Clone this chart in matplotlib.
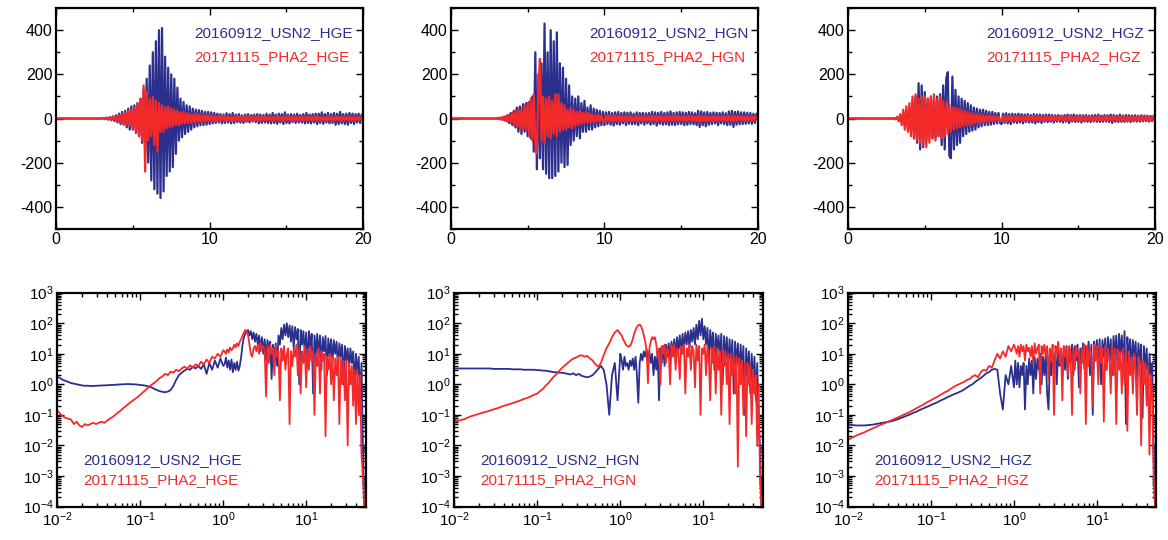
import numpy as np
import matplotlib.pyplot as plt
from matplotlib.ticker import MultipleLocator, LogLocator, NullFormatter

plt.rcParams['font.family'] = ['Liberation Sans', 'DejaVu Sans']
plt.rcParams['axes.unicode_minus'] = False
plt.rcParams['mathtext.default'] = 'regular'

BLUE = '#2b2f8e'
RED = '#f42a2a'

components = ['HGE', 'HGN', 'HGZ']
name_blue = '20160912_USN2'
name_red = '20171115_PHA2'

# time axis (s): 0.1 s samples; frequency axis (Hz): 30 pts/decade below 1 Hz, 60 above
t = np.arange(201) * 0.1
freq = np.concatenate([np.logspace(-2, 0, 61), np.logspace(0, 1.7, 103)[1:]])

# ---- waveforms (counts), one value per 0.1 s ----
usn2_hge = [0] * 30 + [
    0, 2, -3, 4, -5, 6, -8, 10, -12, 15,
    -18, 22, -25, 30, -28, 35, -40, 45, -50, 55,
    -50, 60, -65, 70, -80, 90, -110, 130, -150, 180,
    -200, 240, -280, 300, -320, 350, -340, 400, -360, 410,
    -330, 280, -260, 230, -240, 200, -220, 180, -160, 140,
    -100, 90, -85, 75, -70, 60, -60, 55, -50, 45,
    -40, 40, -35, 38, -30, 35, -30, 30, -28, 30,
    -25, 28, -22, 25, -20, 22, -18, 20, -22, 18,
    -20, 24, -18, 20, -22, 25, -20, 18, -16, 20,
    -18, 15, -20, 18, -15, 20, -18, 16, -14, 18,
    -16, 20, -22, 18, -20, 16, -18, 22, -20, 18,
    -22, 25, -20, 18, -24, 22, -18, 20, -25, 28,
    -20, 18, -22, 20, -16, 18, -20, 22, -18, 16,
    -18, 20, -22, 25, -20, 18, -22, 20, -18, 22,
    -25, 22, -20, 28, -24, 20, -18, 25, -22, 20,
    -20, 25, -28, 22, -25, 30, -22, 20, -25, 22,
    -28, 25, -20, 22, -25, 20, -18, 22, -20, 18,
    0]
pha2_hge = [0] * 30 + [
    0, 1, -2, 3, -4, 5, -6, 8, -8, 10,
    -12, 15, -18, 20, -25, 28, -30, 35, -32, 40,
    -45, 50, -60, 70, -80, 90, -100, 150, -240, 120,
    -100, 90, -80, 100, -120, 80, -150, 70, -60, 60,
    -60, 50, -45, 55, -40, 45, -35, 40, -30, 35,
    -30, 28, -25, 30, -22, 25, -20, 22, -20, 18,
    -18, 20, -15, 18, -15, 16, -14, 15, -12, 14,
    -12, 14, -10, 12, -12, 10, -11, 12, -10, 11,
    -10, 12, -9, 10, -11, 9, -10, 11, -8, 10,
    -9, 10, -11, 9, -8, 10, -9, 8, -10, 9,
    -8, 9, -10, 8, -9, 10, -8, 9, -7, 8,
    -9, 8, -10, 9, -8, 10, -9, 8, -10, 9,
    -8, 10, -9, 8, -10, 9, -8, 7, -9, 8,
    -10, 9, -8, 10, -9, 8, -7, 9, -8, 10,
    -9, 8, -10, 9, -8, 7, -9, 10, -8, 9,
    -10, 8, -9, 10, -8, 9, -10, 8, -9, 7,
    -8, 9, -10, 8, -9, 8, -7, 9, -8, 7,
    0]
usn2_hgn = [0] * 30 + [
    0, 1, -2, 3, -5, 8, -10, 15, -20, 25,
    -30, 35, -40, 50, -60, 55, -70, 65, -60, 70,
    -80, 75, -90, 100, -150, 300, -230, 200, -180, 250,
    -230, 430, -250, 300, -270, 400, -270, 350, -260, 390,
    -240, 250, -200, 230, -220, 180, -210, 150, -120, 100,
    -100, 90, -80, 100, -90, 70, -60, 80, -60, 50,
    -50, 60, -50, 45, -40, 40, -35, 35, -30, 30,
    -30, 28, -25, 30, -28, 25, -32, 28, -25, 30,
    -28, 25, -22, 28, -30, 26, -24, 28, -26, 22,
    -25, 28, -30, 25, -22, 26, -28, 24, -22, 25,
    -28, 30, -25, 28, -32, 26, -24, 30, -28, 25,
    -26, 28, -30, 32, -28, 25, -30, 28, -26, 30,
    -25, 28, -30, 26, -28, 30, -25, 28, -26, 24,
    -30, 35, -38, 32, -30, 28, -35, 30, -28, 25,
    -25, 28, -22, 26, -30, 25, -22, 28, -26, 24,
    -30, 32, -28, 35, -38, 30, -28, 32, -26, 28,
    -25, 28, -24, 26, -22, 25, -24, 22, -20, 22,
    0]
pha2_hgn = [0] * 30 + [
    2, -3, 5, -6, 8, -10, 12, -15, 18, -20,
    25, -30, 35, -40, 45, -50, 40, -50, 60, -55,
    70, -80, 90, -100, 110, -120, -160, 150, 270, -100,
    100, -110, 90, -80, 100, -90, 80, -70, 110, -80,
    110, -60, 70, -50, 60, -50, 40, -40, 50, -45,
    40, -35, 30, -30, 35, -25, 25, -20, 30, -20,
    25, -20, 20, -18, 15, -15, 18, -14, 15, -12,
    -15, 14, -12, 15, -13, 12, -14, 13, -12, 14,
    -12, 13, -11, 12, -14, 12, -11, 13, -12, 10,
    -11, 12, -13, 11, -10, 12, -13, 11, -10, 12,
    -12, 13, -11, 12, -14, 12, -10, 13, -12, 11,
    -12, 14, -13, 12, -11, 13, -12, 14, -11, 12,
    -10, 12, -13, 11, -12, 13, -10, 12, -11, 10,
    -12, 14, -15, 13, -12, 11, -14, 12, -11, 10,
    -11, 12, -10, 11, -12, 10, -9, 12, -11, 10,
    -12, 13, -11, 14, -15, 12, -11, 13, -10, 12,
    -10, 11, -10, 11, -9, 10, -10, 9, -8, 9,
    0]
usn2_hgz = [0] * 30 + [
    1, -2, 4, -6, 10, -15, 20, -30, 35, -40,
    50, -60, 80, -90, 100, -110, 160, -140, 150, -130,
    120, -100, 90, -80, 100, -90, 80, -90, 100, -80,
    110, -120, 150, -140, 180, 210, -170, -180, 190, -140,
    130, -120, 100, -110, 90, -80, 80, -70, 70, -60,
    60, -55, 50, -50, 45, -40, 40, -35, 40, -30,
    35, -30, 30, -28, 30, -25, 25, -22, 25, -20,
    -25, 22, -20, 24, -22, 20, -25, 22, -18, 20,
    -20, 22, -18, 20, -22, 18, -16, 20, -18, 16,
    -18, 20, -22, 18, -16, 18, -20, 16, -15, 18,
    -16, 18, -15, 16, -18, 15, -14, 16, -15, 14,
    -18, 16, -15, 18, -20, 16, -14, 18, -16, 15,
    -15, 16, -18, 15, -14, 16, -15, 14, -16, 15,
    -14, 16, -15, 18, -16, 14, -15, 16, -14, 15,
    -16, 18, -20, 16, -15, 14, -16, 18, -15, 14,
    -15, 16, -14, 15, -16, 14, -13, 15, -14, 13,
    -14, 15, -13, 14, -12, 13, -14, 12, -12, 13,
    0]
pha2_hgz = [0] * 30 + [
    2, -4, 8, -12, 20, -30, 40, -50, 55, -60,
    70, -80, 100, -90, 110, -100, 90, -110, 100, -120,
    100, -130, 90, -110, 100, -90, 110, -100, 90, -80,
    100, -90, 80, -80, 70, -70, 60, -60, 50, -50,
    50, -45, 45, -40, 40, -35, 35, -30, 30, -28,
    25, -25, 22, -20, 20, -20, 18, -18, 15, -15,
    15, -14, 14, -12, 12, -12, 12, -10, 10, -10,
    -12, 10, -11, 12, -10, 11, -12, 10, -9, 11,
    -10, 11, -9, 10, -11, 9, -10, 11, -9, 10,
    -9, 10, -11, 9, -8, 10, -9, 8, -9, 10,
    -8, 9, -10, 8, -9, 10, -8, 9, -8, 9,
    -9, 8, -10, 9, -8, 10, -9, 8, -9, 8,
    -8, 9, -10, 8, -9, 8, -8, 9, -9, 8,
    -9, 8, -8, 10, -9, 8, -8, 9, -8, 9,
    -9, 8, -10, 9, -8, 9, -9, 8, -8, 9,
    -8, 9, -9, 8, -9, 8, -8, 9, -8, 8,
    -8, 9, -8, 8, -7, 8, -8, 7, -7, 8,
    0]

# ---- amplitude spectra: 61 values 0.01-1 Hz, then 102 values 1.04-50 Hz ----
spec_usn2_hge = [
    1.8, 1.6, 1.4, 1.3, 1.2, 1.1, 1.05, 1.0, 0.95, 0.92,
    0.9, 0.9, 0.88, 0.88, 0.9, 0.9, 0.92, 0.92, 0.93, 0.95,
    0.95, 0.97, 0.98, 1.0, 1.0, 1.02, 1.02, 1.0, 1.0, 0.98,
    0.95, 0.93, 0.9, 0.85, 0.8, 0.72, 0.65, 0.6, 0.57, 0.55,
    0.58, 0.65, 0.9, 1.4, 2.0, 2.4, 2.8, 3.2, 3.0, 3.8,
    3.3, 4.0, 3.2, 4.5, 2.2, 5.0, 3.0, 6.0, 3.5, 7.0,
    4.0,
    4.5, 7.5, 3.5, 6.0, 3.0, 6.5, 2.5, 5.0, 3.0, 5.5, 2.8, 4.0,
    8, 20, 35, 45, 55, 60, 40, 55, 30, 50, 25, 45,
    20, 40, 12, 35, 10, 30, 6, 28, 15, 25, 1.5, 20,
    8, 22, 4, 40, 20, 70, 30, 90, 40, 100, 35, 85,
    25, 80, 15, 75, 30, 65, 1.0, 60, 20, 55, 10, 50,
    4, 55, 15, 45, 0.5, 40, 10, 45, 8, 40, 3, 35,
    12, 38, 2, 32, 8, 30, 5, 28, 10, 25, 3, 22,
    8, 20, 1.0, 18, 6, 15, 3, 15, 5, 12, 0.8, 10,
    2, 8, 0.3, 5, 0.01, 0.0001]
spec_pha2_hge = [
    0.14, 0.11, 0.09, 0.08, 0.075, 0.07, 0.05, 0.06, 0.045, 0.04,
    0.05, 0.045, 0.05, 0.055, 0.05, 0.055, 0.06, 0.055, 0.065, 0.075,
    0.085, 0.1, 0.12, 0.14, 0.17, 0.2, 0.24, 0.28, 0.33, 0.38,
    0.45, 0.55, 0.65, 0.8, 0.95, 1.1, 1.3, 1.6, 1.8, 2.2,
    2.0, 2.6, 2.4, 3.0, 2.7, 3.3, 3.8, 3.2, 4.2, 3.5,
    4.5, 4.0, 5.5, 4.5, 6.5, 5.0, 8.0, 7.0, 10, 8.0,
    13,
    12, 10, 14, 11, 16, 13, 15, 20, 16, 22, 18, 25,
    30, 40, 50, 60, 55, 40, 20, 10, 8, 15, 18, 12,
    20, 10, 22, 15, 18, 12, 0.4, 18, 5, 20, 10, 15,
    2, 18, 8, 12, 0.3, 15, 6, 18, 3, 10, 15, 0.05,
    12, 4, 15, 8, 20, 2, 15, 0.5, 12, 5, 18, 0.8,
    15, 3, 18, 6, 12, 0.1, 10, 4, 15, 0.5, 12, 6,
    10, 0.02, 8, 3, 10, 1, 8, 0.3, 7, 2, 8, 0.05,
    7, 1, 6, 0.3, 6, 0.01, 5, 1, 4, 0.2, 3, 0.05,
    3, 0.1, 2, 0.005, 0.001, 0.0001]
spec_usn2_hgn = [
    3.3, 3.3, 3.3, 3.3, 3.3, 3.3, 3.3, 3.3, 3.3, 3.3,
    3.3, 3.3, 3.3, 3.3, 3.2, 3.2, 3.2, 3.2, 3.2, 3.2,
    3.2, 3.1, 3.1, 3.1, 3.1, 3.0, 3.0, 3.0, 3.0, 3.0,
    2.9, 2.9, 2.8, 2.8, 2.7, 2.6, 2.5, 2.5, 2.4, 2.4,
    2.3, 2.2, 2.1, 2.3, 2.0, 2.2, 1.9, 1.8, 1.7, 1.8,
    2.0, 2.5, 3.2, 4.0, 3.0, 1.0, 0.1, 2.0, 5.0, 0.3,
    10,
    6, 3, 8, 4, 5, 3, 6, 4, 7, 3, 8, 2,
    0.25, 5, 10, 6, 12, 8, 14, 6, 12, 5, 10, 2,
    8, 3, 12, 0.3, 15, 5, 18, 4, 20, 8, 22, 6,
    25, 10, 30, 8, 35, 12, 40, 10, 45, 15, 50, 20,
    55, 15, 60, 25, 70, 20, 90, 30, 120, 40, 140, 30,
    80, 20, 70, 5, 60, 15, 50, 3, 45, 12, 40, 8,
    45, 1, 38, 6, 35, 3, 30, 5, 28, 0.5, 25, 4,
    22, 2, 20, 3, 18, 0.1, 15, 2, 12, 0.5, 10, 1,
    8, 0.3, 5, 0.05, 0.01, 0.0001]
spec_pha2_hgn = [
    0.06, 0.063, 0.066, 0.07, 0.075, 0.082, 0.09, 0.096, 0.103, 0.11,
    0.117, 0.124, 0.13, 0.14, 0.15, 0.16, 0.17, 0.185, 0.2, 0.21,
    0.225, 0.24, 0.26, 0.28, 0.3, 0.33, 0.35, 0.38, 0.42, 0.46,
    0.5, 0.6, 0.7, 0.9, 1.1, 1.4, 1.8, 2.2, 2.8, 3.5,
    4.2, 5.0, 6.0, 7.0, 7.5, 8.5, 9.0, 8.0, 8.5, 7.0,
    6.0, 4.5, 3.8, 5.0, 9, 15, 22, 35, 50, 60,
    45,
    40, 30, 25, 20, 18, 17, 18, 22, 30, 45, 60, 75,
    85, 90, 80, 60, 40, 25, 13, 1.1, 15, 25, 35, 30,
    35, 20, 8, 15, 1.0, 18, 10, 20, 5, 15, 12, 1.0,
    18, 8, 20, 3, 15, 12, 1.5, 18, 10, 20, 0.5, 15,
    8, 20, 3, 18, 12, 0.8, 20, 6, 18, 0.1, 15, 10,
    20, 2, 18, 8, 0.3, 15, 5, 18, 0.5, 15, 3, 12,
    0.1, 14, 4, 12, 1, 10, 0.05, 10, 2, 9, 0.5, 8,
    0.002, 7, 1, 6, 0.1, 5, 0.02, 5, 1, 4, 0.05, 3,
    0.5, 2, 0.01, 1, 0.001, 0.0001]
spec_usn2_hgz = [
    0.048, 0.047, 0.046, 0.045, 0.045, 0.045, 0.045, 0.046, 0.047, 0.048,
    0.05, 0.052, 0.054, 0.056, 0.058, 0.06, 0.063, 0.067, 0.072, 0.078,
    0.085, 0.092, 0.1, 0.11, 0.12, 0.13, 0.145, 0.16, 0.175, 0.19,
    0.21, 0.23, 0.25, 0.28, 0.31, 0.34, 0.38, 0.42, 0.46, 0.5,
    0.55, 0.6, 0.68, 0.78, 0.9, 1.0, 1.2, 1.4, 1.6, 1.9,
    2.3, 2.5, 3.0, 3.2, 3.0, 0.5, 0.15, 2.0, 1.0, 4.0,
    0.8,
    6, 1.0, 5, 0.8, 4, 2, 5, 0.15, 4, 1.0, 7, 2,
    6, 0.5, 8, 1.5, 7, 3, 10, 1, 8, 2, 10, 0.5,
    0.15, 6, 2, 10, 3, 12, 1.0, 14, 4, 12, 2, 15,
    3, 18, 1.5, 15, 5, 20, 2, 18, 6, 20, 0.8, 15,
    5, 22, 3, 18, 8, 25, 2, 20, 0.1, 25, 6, 28,
    4, 30, 1.0, 28, 8, 32, 3, 35, 6, 30, 2, 38,
    8, 40, 3, 45, 10, 40, 4, 55, 0.05, 35, 6, 30,
    3, 28, 8, 25, 1.5, 22, 5, 20, 0.08, 18, 3, 15,
    0.5, 10, 2, 5, 0.01, 0.0001]
spec_pha2_hgz = [
    0.015, 0.017, 0.019, 0.021, 0.023, 0.025, 0.027, 0.03, 0.033, 0.036,
    0.04, 0.044, 0.048, 0.052, 0.057, 0.062, 0.068, 0.075, 0.082, 0.09,
    0.1, 0.11, 0.12, 0.135, 0.15, 0.17, 0.19, 0.21, 0.24, 0.27,
    0.3, 0.34, 0.38, 0.43, 0.48, 0.55, 0.6, 0.7, 0.8, 0.9,
    1.0, 1.1, 1.2, 1.4, 1.5, 1.8, 2.0, 1.7, 2.5, 3.0,
    2.8, 4.0, 3.5, 6, 10, 7, 12, 8, 18, 12,
    20,
    15, 10, 18, 8, 20, 12, 18, 6, 20, 12, 16, 8,
    18, 5, 22, 10, 15, 20, 0.5, 18, 10, 20, 8, 18,
    1.5, 15, 6, 20, 0.1, 18, 10, 25, 5, 15, 0.3, 18,
    8, 15, 2, 18, 10, 0.1, 15, 3, 18, 8, 12, 0.5,
    15, 5, 20, 0.05, 18, 4, 15, 8, 0.2, 20, 6, 18,
    1.0, 18, 5, 15, 0.06, 18, 3, 15, 8, 0.5, 18, 2,
    15, 0.05, 14, 3, 12, 0.5, 15, 1, 10, 0.03, 12, 2,
    8, 0.5, 10, 3, 0.1, 8, 5, 0.01, 6, 1, 5, 0.2,
    4, 0.005, 2, 0.5, 0.001, 0.0001]

waves = [(usn2_hge, pha2_hge), (usn2_hgn, pha2_hgn), (usn2_hgz, pha2_hgz)]
spectra = [(spec_usn2_hge, spec_pha2_hge), (spec_usn2_hgn, spec_pha2_hgn),
           (spec_usn2_hgz, spec_pha2_hgz)]

fig = plt.figure(figsize=(11.68, 5.4), dpi=100)

top_lefts = [0.048, 0.386, 0.726]
bot_lefts = [0.049, 0.389, 0.726]


def style(ax):
    for s in ax.spines.values():
        s.set_linewidth(1.6)
    ax.tick_params(which='both', direction='in', top=True, right=True,
                   labelsize=11.5, width=1.0, pad=2.5)
    ax.tick_params(which='major', length=5)
    ax.tick_params(which='minor', length=3)


for k, comp in enumerate(components):
    # waveform panel
    ax = fig.add_axes([top_lefts[k], 0.576, 0.263, 0.409])
    ax.plot(t, waves[k][0], color=BLUE, lw=1.6)
    ax.plot(t, waves[k][1], color=RED, lw=1.6)
    ax.set_xlim(0, 20)
    ax.set_ylim(-500, 500)
    ax.set_yticks([-400, -200, 0, 200, 400])
    ax.set_xticks([0, 10, 20])
    ax.xaxis.set_minor_locator(MultipleLocator(5))
    ax.yaxis.set_minor_locator(MultipleLocator(100))
    style(ax)
    ax.text(0.45, 0.887, f'{name_blue}_{comp}', color=BLUE, fontsize=11,
            transform=ax.transAxes, va='center')
    ax.text(0.45, 0.778, f'{name_red}_{comp}', color=RED, fontsize=11,
            transform=ax.transAxes, va='center')

    # spectrum panel
    ax = fig.add_axes([bot_lefts[k], 0.062, 0.264, 0.396])
    ax.loglog(freq, spectra[k][0], color=BLUE, lw=1.3)
    ax.loglog(freq, spectra[k][1], color=RED, lw=1.3)
    ax.set_xlim(0.01, 52)
    ax.set_ylim(1e-4, 1e3)
    ax.yaxis.set_major_locator(LogLocator(base=10, numticks=10))
    ax.yaxis.set_minor_locator(LogLocator(base=10, subs=np.arange(2, 10) * 0.1, numticks=20))
    ax.yaxis.set_minor_formatter(NullFormatter())
    ax.xaxis.set_minor_formatter(NullFormatter())
    style(ax)
    ax.tick_params(labelsize=11)
    ax.tick_params(axis='x', pad=3)
    ax.text(0.084, 0.217, f'{name_blue}_{comp}', color=BLUE, fontsize=11,
            transform=ax.transAxes, va='center')
    ax.text(0.084, 0.124, f'{name_red}_{comp}', color=RED, fontsize=11,
            transform=ax.transAxes, va='center')

fig.savefig('out.png', dpi=100)
